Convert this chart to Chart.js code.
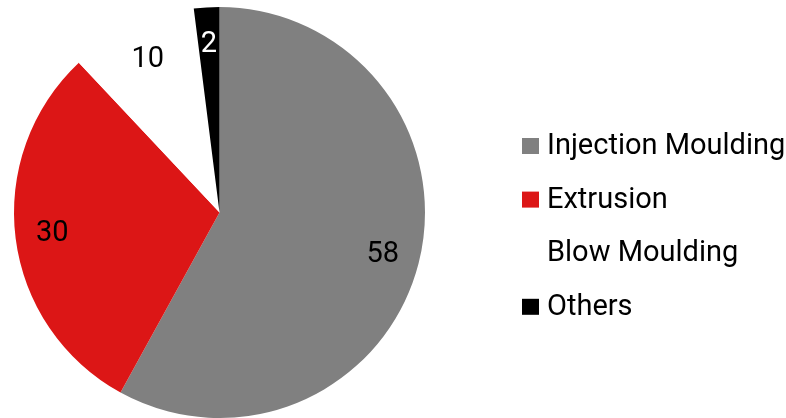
<!DOCTYPE html>
<html>
<head>
<meta charset="utf-8">
<script src="https://cdn.jsdelivr.net/npm/chart.js@4/dist/chart.umd.min.js"></script>
<style>
  html, body { margin: 0; padding: 0; background: #fff; }
  #wrap { width: 786px; height: 418px; position: relative; }
</style>
</head>
<body>
<div id="wrap"><canvas id="myChart"></canvas></div>
<script>
var labels = ["Injection Moulding", "Extrusion", "Blow Moulding", "Others"]
var values = [58, 30, 10, 2]
var colors = ["#808080", "#dc1616", "#ffffff", "#000000"]
var labelColors = ["#000000", "#000000", "#000000", "#ffffff"]

var fontName = "Roboto"

// value labels inside the slices
var sliceLabels = {
  id: 'sliceLabels',
  afterDatasetsDraw: function(chart) {
    var ctx = chart.ctx
    var meta = chart.getDatasetMeta(0)
    ctx.save()
    ctx.font = "29px " + fontName
    ctx.textAlign = "center"
    ctx.textBaseline = "middle"
    meta.data.forEach(function(arc, i) {
      var mid = (arc.startAngle + arc.endAngle) / 2
      var r = arc.outerRadius * 0.82
      ctx.fillStyle = labelColors[i]
      ctx.fillText(String(values[i]), arc.x + Math.cos(mid) * r, arc.y + Math.sin(mid) * r)
    })
    ctx.restore()
  }
}

// legend on the right side
var sideLegend = {
  id: 'sideLegend',
  afterDraw: function(chart) {
    var ctx = chart.ctx
    var x = 522, y = 146, step = 53.6
    ctx.save()
    ctx.font = "29px " + fontName
    ctx.textBaseline = "middle"
    ctx.textAlign = "left"
    chart.data.labels.forEach(function(lab, i) {
      var yy = y + i * step
      ctx.fillStyle = chart.data.datasets[0].backgroundColor[i]
      ctx.fillRect(x, yy - 8, 17, 16)
      ctx.fillStyle = "#000"
      ctx.fillText(lab, x + 25, yy + 1)
    })
    ctx.restore()
  }
}

new Chart(document.getElementById("myChart"), {
  type: 'pie',
  data: {
    labels: labels,
    datasets: [{
      data: values,
      backgroundColor: colors,
      borderWidth: 0
    }]
  },
  options: {
    responsive: true,
    maintainAspectRatio: false,
    animation: false,
    layout: { padding: { left: 14, right: 361, top: 7, bottom: 0 } },
    plugins: {
      legend: { display: false },
      tooltip: { enabled: false }
    }
  },
  plugins: [sliceLabels, sideLegend]
})
</script>
</body>
</html>
